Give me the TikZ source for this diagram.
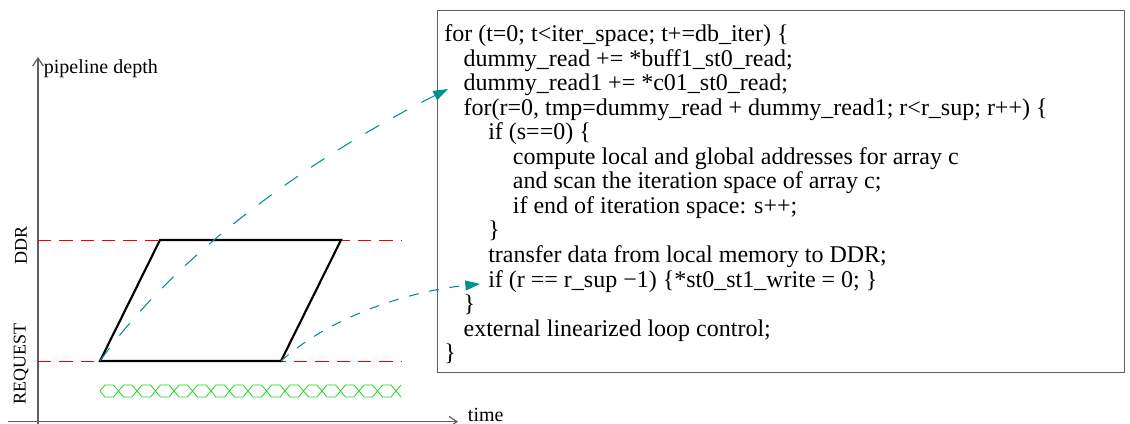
\documentclass[tikz,border=0pt]{standalone}
\usepackage{fontspec}
\setmainfont{Liberation Serif}
\usetikzlibrary{arrows.meta}
\definecolor{flowteal}{RGB}{0,145,145}
\definecolor{levelred}{RGB}{240,0,0}
\definecolor{wavegreen}{RGB}{30,215,30}
\definecolor{axisgray}{RGB}{95,95,95}
\begin{document}
\begin{tikzpicture}[x=0.75pt,y=-0.75pt,
    axis/.style={draw=axisgray,line width=0.9pt,-{Straight Barb[length=6pt,width=8pt]}},
    level/.style={draw=levelred,line width=0.7pt,dash pattern=on 10pt off 6pt},
    stage/.style={draw=black,line width=1.6pt,line join=miter},
    wave/.style={draw=wavegreen,line width=0.6pt},
    flow/.style={draw=flowteal,line width=0.8pt,-{Triangle[length=11pt,width=7.5pt]}},
    lab/.style={font=\fontsize{15}{18}\selectfont,inner sep=2pt},
    code/.style={font=\fontsize{18}{18.4}\selectfont,align=left,inner sep=0pt}]
    \useasboundingbox (0,0) rectangle (1130,424);
    % axes
    \coordinate (ybot) at (38,424);
    \coordinate (ytop) at (38,57);
    \coordinate (xbeg) at (8,421.7);
    \coordinate (xend) at (458,421.7);
    \draw[axis] (ybot) -- (ytop);
    \draw[axis] (xbeg) -- (xend);
    \node[lab,anchor=north west] (ylab) at (41,57) {pipeline depth};
    \node[lab,anchor=west] (xlab) at (465,414.5) {time};
    \node[lab,font=\fontsize{13.5}{16}\selectfont,rotate=90] (ddr) at (21,245) {DDR};
    \node[lab,font=\fontsize{13.5}{16}\selectfont,rotate=90] (req) at (21,364) {REQUEST};
    % levels
    \draw[level] (38,240.5) -- (402,240.5);
    \draw[level] (38,361.7) -- (402,361.7);
    % pipeline stage
    \coordinate (sa) at (100,361);
    \coordinate (sb) at (160,240);
    \coordinate (sc) at (341,240);
    \coordinate (sd) at (281,361);
    \draw[stage] (sa) -- (sb) -- (sc) -- (sd) -- cycle;
    % green waves
    \foreach \i in {0,...,15}
        \draw[wave] ({100+18.5*\i},391) -- ++(5,-6) -- ++(8.5,0) -- ++(5,6) -- ++(-5,6) -- ++(-8.5,0) -- cycle;
    \draw[wave] (401,385) -- (396,391) -- (401,397);
    % code
    \node[draw=axisgray,line width=0.9pt,anchor=north west,minimum width=515.25pt,minimum height=271.5pt,inner sep=0pt] (frame) at (437,10) {};
    \node[code,anchor=north west] (code) at (444,24.5) {%
        for (t=0; t<iter\_space; t+=db\_iter) \{\\
        \hspace*{14.5pt}dummy\_read += *buff1\_st0\_read;\\
        \hspace*{14.5pt}dummy\_read1 += *c01\_st0\_read;\\
        \hspace*{14.5pt}for(r=0, tmp=dummy\_read + dummy\_read1; r<r\_sup; r++) \{\\
        \hspace*{33pt}if (s==0) \{\\
        \hspace*{51.5pt}compute local and global addresses for array c\\
        \hspace*{51.5pt}and scan the iteration space of array c;\\
        \hspace*{51.5pt}if end of iteration space: s++;\\
        \hspace*{33pt}\}\\
        \hspace*{33pt}transfer data from local memory to DDR;\\
        \hspace*{33pt}if (r == r\_sup −1) \{*st0\_st1\_write = 0; \}\\
        \hspace*{14.5pt}\}\\
        \hspace*{14.5pt}external linearized loop control;\\
        \}};
    \coordinate (readline) at (448,89);
    \coordinate (writeline) at (480,284);
    % arrows into the code
    \draw[flow,dash pattern=on 12pt off 12pt] (sa) .. controls (187,240) and (332,147) .. (readline);
    \draw[flow,dash pattern=on 7.5pt off 8pt] (sd) .. controls (331,316) and (410,291) .. (writeline);
\end{tikzpicture}
\end{document}
